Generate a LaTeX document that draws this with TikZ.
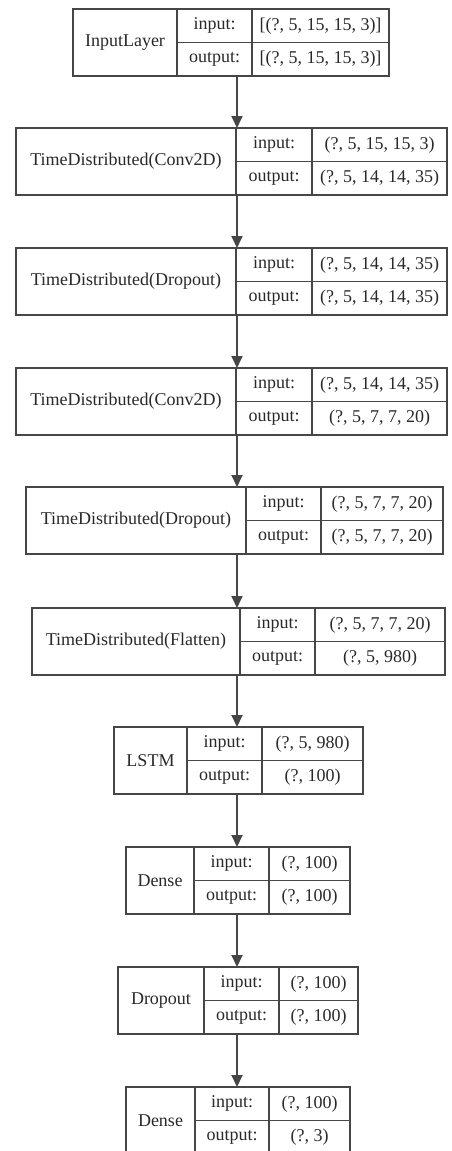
\documentclass[tikz,border=0pt]{standalone}
\usepackage{fontspec}
\setmainfont{Liberation Serif}
\usepackage{tikz}
\usetikzlibrary{arrows.meta, positioning, calc}
\definecolor{linegray}{RGB}{70, 70, 70}
\definecolor{textgray}{RGB}{40, 40, 40}

\tikzset{
    cell/.style={draw=linegray, line width=1.4pt, inner sep=0pt, outer sep=0pt, anchor=north west,
                 text=textgray, font=\fontsize{18}{20}\selectfont},
    link/.style={draw=linegray, line width=1.8pt, -{Triangle[length=12pt, width=11pt]}}
}

% one keras layer record: id, top, x-left, x-split1, x-split2, x-right, label, input, output
\newcommand{\kerasrecord}[9]{%
    \node[cell, minimum width={#4-#3}, minimum height=67] (#1) at (#3,#2) {#7};
    \node[cell, minimum width={#5-#4}, minimum height=33.5] (#1-inl) at (#1.north east) {input:};
    \node[cell, minimum width={#5-#4}, minimum height=33.5] (#1-outl) at (#1-inl.south west) {output:};
    \node[cell, minimum width={#6-#5}, minimum height=33.5] (#1-inv) at (#1-inl.north east) {#8};
    \node[cell, minimum width={#6-#5}, minimum height=33.5] (#1-outv) at (#1-outl.north east) {#9};
}

\begin{document}
\begin{tikzpicture}[x=1pt, y=-1pt]
    \useasboundingbox (0,0) rectangle (451,1151);
    \coordinate (axis) at (237,0);

    \kerasrecord{input}{9}{73}{177}{252}{389}{InputLayer}{[(?, 5, 15, 15, 3)]}{[(?, 5, 15, 15, 3)]}
    \kerasrecord{conva}{128}{16}{236}{312}{447}{TimeDistributed(Conv2D)}{(?, 5, 15, 15, 3)}{(?, 5, 14, 14, 35)}
    \kerasrecord{dropa}{248}{16}{236}{312}{447}{TimeDistributed(Dropout)}{(?, 5, 14, 14, 35)}{(?, 5, 14, 14, 35)}
    \kerasrecord{convb}{368}{16}{236}{312}{447}{TimeDistributed(Conv2D)}{(?, 5, 14, 14, 35)}{(?, 5, 7, 7, 20)}
    \kerasrecord{dropb}{487}{26}{246}{321}{443}{TimeDistributed(Dropout)}{(?, 5, 7, 7, 20)}{(?, 5, 7, 7, 20)}
    \kerasrecord{flat}{608}{32}{240}{315}{445}{TimeDistributed(Flatten)}{(?, 5, 7, 7, 20)}{(?, 5, 980)}
    \kerasrecord{lstm}{727}{114}{187}{262}{363}{LSTM}{(?, 5, 980)}{(?, 100)}
    \kerasrecord{densea}{847}{126}{194}{269}{350}{Dense}{(?, 100)}{(?, 100)}
    \kerasrecord{dropc}{967}{118}{204}{279}{358}{Dropout}{(?, 100)}{(?, 100)}
    \kerasrecord{denseb}{1087}{126}{195}{269}{350}{Dense}{(?, 100)}{(?, 3)}

    % arrows between layers
    \draw[link] (axis |- input.south) -- (axis |- conva.north);
    \draw[link] (axis |- conva.south) -- (axis |- dropa.north);
    \draw[link] (axis |- dropa.south) -- (axis |- convb.north);
    \draw[link] (axis |- convb.south) -- (axis |- dropb.north);
    \draw[link] (axis |- dropb.south) -- (axis |- flat.north);
    \draw[link] (axis |- flat.south) -- (axis |- lstm.north);
    \draw[link] (axis |- lstm.south) -- (axis |- densea.north);
    \draw[link] (axis |- densea.south) -- (axis |- dropc.north);
    \draw[link] (axis |- dropc.south) -- (axis |- denseb.north);
\end{tikzpicture}
\end{document}
